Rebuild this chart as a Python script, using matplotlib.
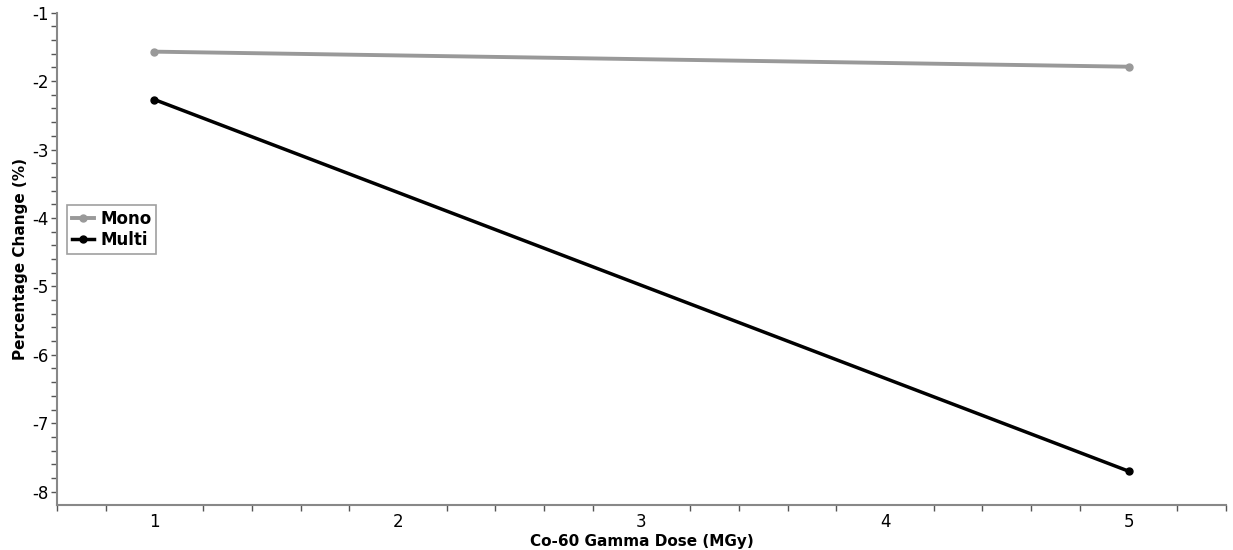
import matplotlib
matplotlib.use("Agg")
import matplotlib.pyplot as plt
import numpy as np
from matplotlib.ticker import MultipleLocator, FixedLocator

dose = [1, 5]
mono = [-1.57, -1.79]
multi = [-2.27, -7.70]
series_names = ["Mono", "Multi"]

plt.rcParams['font.family'] = ['DejaVu Sans']
plt.rcParams['axes.unicode_minus'] = False

fig = plt.figure(figsize=(12.33, 5.5), dpi=100)
ax = fig.add_axes([0.0462, 0.0818, 0.9481, 0.8952])

ax.plot(dose, mono, color="#999999", lw=2.8, marker="o", ms=5, label=series_names[0])
ax.plot(dose, multi, color="#000000", lw=2.5, marker="o", ms=5, label=series_names[1])

ax.set_xlim(0.6, 5.4)
ax.set_ylim(-8.195, -1.0)

for s in ["top", "right"]:
    ax.spines[s].set_visible(False)
for s in ["left", "bottom"]:
    ax.spines[s].set_color("#888888")
    ax.spines[s].set_linewidth(1.5)

ax.xaxis.set_major_locator(FixedLocator([1, 2, 3, 4, 5]))
minor_x = [v for v in np.arange(0.6, 5.41, 0.2) if abs(v - round(v)) > 1e-6]
ax.xaxis.set_minor_locator(FixedLocator(minor_x))
ax.yaxis.set_major_locator(MultipleLocator(1))
ax.yaxis.set_minor_locator(MultipleLocator(0.2))

ax.tick_params(axis="x", which="major", length=0, pad=6, labelsize=12)
ax.tick_params(axis="x", which="minor", length=4, width=1, color="#555555", direction="out")
ax.tick_params(axis="y", which="both", length=4, width=1, color="#555555", direction="out", labelsize=12, pad=2)

ax.set_xlabel("Co-60 Gamma Dose (MGy)", fontsize=11, fontweight="bold", labelpad=2)
ax.set_ylabel("Percentage Change (%)", fontsize=11, fontweight="bold", labelpad=3)

leg = ax.legend(loc="center left", bbox_to_anchor=(0.0085, 0.56), frameon=True, fancybox=False,
                prop={"weight": "bold", "size": 12}, handlelength=1.3, handletextpad=0.4,
                borderpad=0.3, labelspacing=0.2, borderaxespad=0)
leg.get_frame().set_edgecolor("#888888")
leg.get_frame().set_linewidth(1.2)

fig.savefig("out.png", dpi=100)
